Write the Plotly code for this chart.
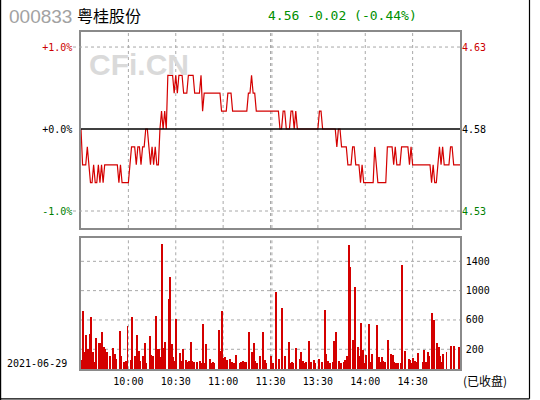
import plotly.graph_objects as go

# ---------------- data ----------------
prev_close = 4.58
prices = [
    4.58, 4.56, 4.56, 4.56, 4.57, 4.56, 4.55, 4.55, 4.56, 4.55,
    4.55, 4.56, 4.55, 4.56, 4.55, 4.56, 4.56, 4.56, 4.56, 4.56,
    4.56, 4.56, 4.56, 4.56, 4.55, 4.56, 4.55, 4.55, 4.55, 4.55,
    4.55, 4.56, 4.57, 4.57, 4.57, 4.56, 4.57, 4.57, 4.56, 4.57,
    4.57, 4.58, 4.58, 4.57, 4.56, 4.57, 4.56, 4.57, 4.56, 4.56,
    4.58, 4.59, 4.58, 4.59, 4.58, 4.61, 4.61, 4.61, 4.61, 4.60,
    4.61, 4.60, 4.61, 4.61, 4.61, 4.60, 4.60, 4.60, 4.61, 4.61,
    4.61, 4.61, 4.60, 4.60, 4.60, 4.60, 4.61, 4.59, 4.60, 4.60,
    4.60, 4.60, 4.60, 4.60, 4.60, 4.60, 4.60, 4.60, 4.60, 4.59,
    4.59, 4.59, 4.59, 4.60, 4.60, 4.60, 4.59, 4.59, 4.59, 4.59,
    4.59, 4.59, 4.59, 4.59, 4.59, 4.59, 4.60, 4.60, 4.61, 4.60,
    4.60, 4.59, 4.59, 4.59, 4.59, 4.59, 4.59, 4.59, 4.59, 4.59,
    4.59, 4.59, 4.59, 4.59, 4.59, 4.59, 4.58, 4.58, 4.59, 4.59,
    4.58, 4.58, 4.58, 4.59, 4.59, 4.58, 4.59, 4.58, 4.58, 4.58,
    4.58, 4.58, 4.58, 4.58, 4.58, 4.58, 4.58, 4.58, 4.58, 4.58,
    4.58, 4.59, 4.59, 4.58, 4.58, 4.58, 4.58, 4.58, 4.58, 4.58,
    4.58, 4.58, 4.57, 4.58, 4.58, 4.57, 4.57, 4.57, 4.57, 4.56,
    4.56, 4.56, 4.57, 4.57, 4.56, 4.56, 4.56, 4.55, 4.56, 4.55,
    4.55, 4.55, 4.55, 4.55, 4.55, 4.55, 4.57, 4.56, 4.55, 4.55,
    4.55, 4.55, 4.55, 4.55, 4.57, 4.57, 4.57, 4.57, 4.56, 4.57,
    4.56, 4.56, 4.56, 4.57, 4.57, 4.57, 4.57, 4.57, 4.56, 4.57,
    4.56, 4.56, 4.56, 4.56, 4.56, 4.56, 4.56, 4.56, 4.56, 4.56,
    4.56, 4.56, 4.55, 4.56, 4.55, 4.55, 4.56, 4.57, 4.56, 4.57,
    4.56, 4.56, 4.56, 4.56, 4.57, 4.57, 4.56, 4.56, 4.56, 4.56,
    4.56,
]
volumes = [
    55, 723, 155, 395, 200, 409, 641, 155, 18, 355,
    None, 286, 286, 436, 232, 205, 164, None, 109, None,
    218, 136, 68, None, 450, 109, None, 27, 41, 518,
    None, 55, 641, None, 109, 395, 177, 41, None, 109,
    286, 14, None, 382, 123, 109, None, 655, 200, 200,
    95, 1636, 218, 300, None, 886, 1186, 273, 95, 41,
    614, None, 150, 41, 205, None, 55, 27, 41, 300,
    41, 27, None, 27, None, 41, 14, 545, 14, 273,
    None, 68, 14, 27, 14, None, None, 464, 177, 723,
    82, 95, 55, None, 68, 27, 14, 14, 123, None,
    14, 27, 41, 27, 27, None, 436, None, 164, 286,
    41, 14, None, 109, None, 436, 55, 14, None, None,
    109, 14, None, 982, None, 68, None, 764, None, 109,
    None, 300, 14, 27, 14, None, 218, None, 68, 164,
    41, 14, 27, None, 314, 27, None, 55, 14, None,
    68, None, 27, None, 736, 136, 41, 14, None, 27,
    314, 436, None, 41, 14, None, 27, 55, 109, 1623,
    1323, None, 327, 1050, None, 232, 109, 559, 191, 14,
    123, None, 545, 27, 136, None, None, 532, 95, 27,
    95, 41, 27, None, 327, None, 136, 123, 27, 14,
    14, None, 14, 1350, None, 177, None, 68, 55, 14,
    82, 41, 27, 150, None, None, 27, 191, 27, 164,
    109, None, 695, 600, None, 286, 232, 109, 27, 136,
    None, 164, None, None, 245, None, 245, None, None, 232,
]
time_ticks = [30, 60, 90, 120, 150, 180, 210]
time_labels = ["10:00", "10:30", "11:00", "11:30", "13:30", "14:00", "14:30"]
vol_ticks = [200, 600, 1000, 1400]
vol_labels = ["200", "600", "1000", "1400"]
pct_labels = ["+1.0%", "+0.0%", "-1.0%"]
price_labels = ["4.63", "4.58", "4.53"]
stock_code = "000833"
stock_name = "粤桂股份"
quote_text = "4.56 -0.02 (-0.44%)"
date_text = "2021-06-29"
status_text = "(已收盘)"

# ---------------- layout helpers ----------------
W, H = 540, 400
def px(x):
    return x / W
def py(y):
    return 1 - y / H

RED = "#cc0000"
GREEN = "#008000"
GRID = "#a8a8a8"
FRAME = "#8a8a8a"
MONO = "DejaVu Sans Mono"

up_level = prev_close * 1.01
dn_level = prev_close * 0.99
price_range = [4.5247, 4.6342]
vol_base = -73
vol_range = [vol_base, 1714]

x_dom = [px(81), px(460)]

fig = go.Figure()
minutes = list(range(len(prices)))
fig.add_trace(go.Scatter(
    x=minutes, y=prices, mode="lines",
    line=dict(color="#d40000", width=1.2),
    xaxis="x", yaxis="y", hoverinfo="skip", showlegend=False))
# invisible trace to carry the right-hand price axis
fig.add_trace(go.Scatter(
    x=[minutes[0]], y=[prices[0]], mode="markers", marker=dict(opacity=0),
    xaxis="x", yaxis="y3", hoverinfo="skip", showlegend=False))

bar_x = [i + 0.45 for i in range(len(volumes))]
bar_len = [None if v is None else v - vol_base for v in volumes]
fig.add_trace(go.Bar(
    x=bar_x, y=bar_len, base=vol_base, width=0.62,
    marker=dict(color="#d40000", line=dict(width=0)),
    xaxis="x2", yaxis="y2", hoverinfo="skip", showlegend=False))

shapes = []
# price panel horizontal gridlines (extend slightly past the frame)
for lvl in (up_level, dn_level):
    shapes.append(dict(type="line", xref="paper", yref="y", x0=px(73), x1=px(462),
                       y0=lvl, y1=lvl, line=dict(color=GRID, width=1, dash="dot")))
# previous close line
shapes.append(dict(type="line", xref="x", yref="y", x0=0, x1=240, y0=prev_close, y1=prev_close,
                   line=dict(color="black", width=1.3)))
# vertical gridlines in both panels
vlines = time_ticks + [120.9]
for t in vlines:
    shapes.append(dict(type="line", xref="x", yref="y domain", x0=t, x1=t, y0=0, y1=1,
                       line=dict(color=GRID, width=1, dash="dot"), layer="below"))
    shapes.append(dict(type="line", xref="x2", yref="y2 domain", x0=t, x1=t, y0=0, y1=1,
                       line=dict(color=GRID, width=1, dash="dot"), layer="below"))
# volume horizontal gridlines
for v in vol_ticks:
    shapes.append(dict(type="line", xref="x2", yref="y2", x0=0, x1=240, y0=v, y1=v,
                       line=dict(color=GRID, width=1, dash="dot"), layer="below"))
# outer black frame (left, bottom, right)
shapes.append(dict(type="line", xref="paper", yref="paper", x0=px(0.6), x1=px(0.6),
                   y0=0, y1=1, line=dict(color="black", width=1.2)))
shapes.append(dict(type="line", xref="paper", yref="paper", x0=0, x1=px(529.5),
                   y0=py(398.8), y1=py(398.8), line=dict(color="black", width=1.2)))
shapes.append(dict(type="line", xref="paper", yref="paper", x0=px(529.5), x1=px(529.5),
                   y0=py(398.8), y1=1, line=dict(color="black", width=1.2)))

annotations = [
    dict(text=stock_code, x=px(7), y=py(16), xref="paper", yref="paper",
         xanchor="left", yanchor="middle", showarrow=False,
         font=dict(family="Liberation Sans", size=19, color="#a2a2a2")),
    dict(text=stock_name, x=px(75), y=py(15), xref="paper", yref="paper",
         xanchor="left", yanchor="middle", showarrow=False,
         font=dict(family="Noto Sans CJK SC", size=16, color="black")),
    dict(text=quote_text, x=px(266), y=py(15.5), xref="paper", yref="paper",
         xanchor="left", yanchor="middle", showarrow=False,
         font=dict(family=MONO, size=13, color="#009000")),
    dict(text="<b>CFi.CN</b>", x=px(139), y=py(65), xref="paper", yref="paper",
         xanchor="center", yanchor="middle", showarrow=False,
         font=dict(family="Liberation Sans", size=30, color="#dadada")),
    dict(text=date_text, x=px(5), y=py(363), xref="paper", yref="paper",
         xanchor="left", yanchor="middle", showarrow=False,
         font=dict(family=MONO, size=10, color="black")),
    dict(text=status_text, x=px(461), y=py(380), xref="paper", yref="paper",
         xanchor="left", yanchor="middle", showarrow=False,
         font=dict(family="Noto Sans CJK SC", size=12, color="black")),
]

pct_colors = [RED, "black", GREEN]
pct_text = [f"<span style='color:{c}'>{t}</span>" for c, t in zip(pct_colors, pct_labels)]
price_text = [f"<span style='color:{c}'>{t}</span>" for c, t in zip(pct_colors, price_labels)]

fig.update_layout(
    width=W, height=H,
    margin=dict(l=0, r=0, t=0, b=0),
    paper_bgcolor="white", plot_bgcolor="white",
    showlegend=False, bargap=0,
    xaxis=dict(domain=x_dom, range=[0, 240], anchor="y", showticklabels=False,
               showgrid=False, zeroline=False, showline=True, mirror=True,
               linecolor=FRAME, linewidth=1.5, ticks=""),
    yaxis=dict(domain=[py(228), py(32)], range=price_range, anchor="x",
               tickvals=[up_level, prev_close, dn_level], ticktext=pct_text,
               tickfont=dict(family=MONO, size=10), ticks="", ticklabelstandoff=5,
               showgrid=False, zeroline=False, showline=True, mirror=True,
               linecolor=FRAME, linewidth=1.5),
    yaxis3=dict(overlaying="y", side="right", range=price_range, anchor="x",
                tickvals=[up_level, prev_close, dn_level], ticktext=price_text,
                tickfont=dict(family=MONO, size=10), ticks="", ticklabelstandoff=1,
                showgrid=False, zeroline=False, showline=False),
    xaxis2=dict(domain=x_dom, range=[0, 240], anchor="y2",
                tickvals=time_ticks, ticktext=time_labels,
                tickfont=dict(family=MONO, size=10, color="black"), ticks="",
                ticklabelstandoff=2,
                showgrid=False, zeroline=False, showline=True, mirror=True,
                linecolor=FRAME, linewidth=1.5),
    yaxis2=dict(domain=[py(369.3), py(238.3)], range=vol_range, anchor="x2", side="right",
                tickvals=vol_ticks, ticktext=vol_labels,
                tickfont=dict(family=MONO, size=10, color="black"), ticks="",
                ticklabelstandoff=2,
                showgrid=False, zeroline=False, showline=True, mirror=True,
                linecolor=FRAME, linewidth=1.5),
    shapes=shapes,
    annotations=annotations,
)

fig.write_html("out.html", config={"displayModeBar": False},
               post_script="document.body.style.margin='0px';")
